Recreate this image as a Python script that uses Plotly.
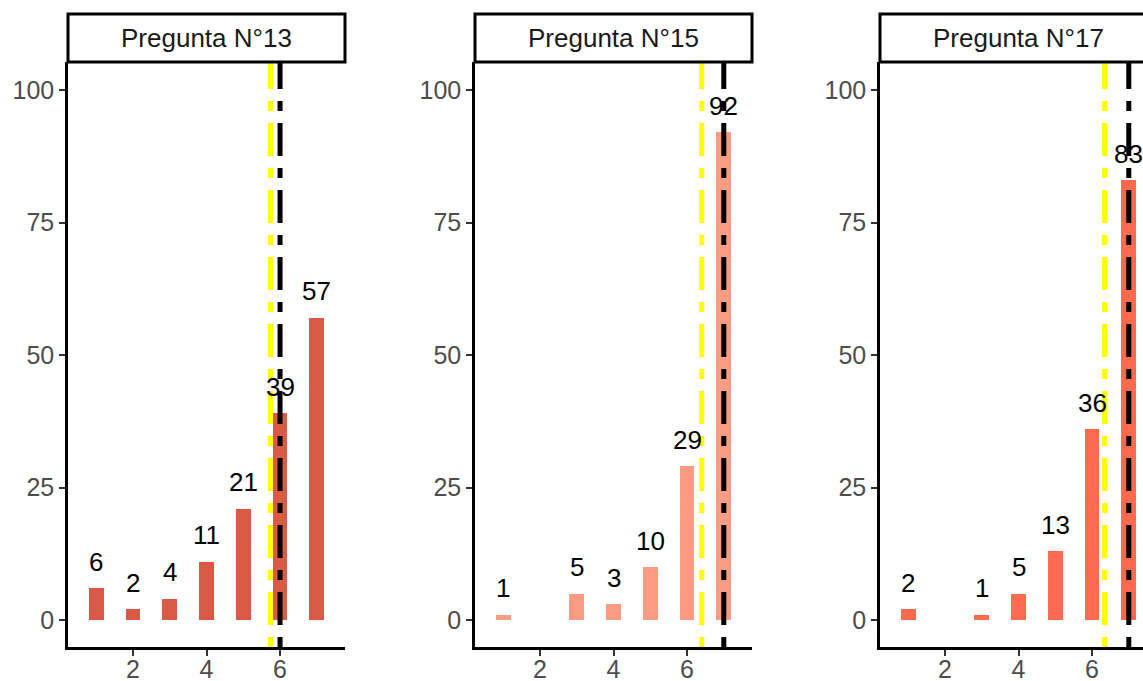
import plotly.graph_objects as go

categories = [1, 2, 3, 4, 5, 6, 7]
panel_titles = ["Pregunta N°13", "Pregunta N°15", "Pregunta N°17"]
q13_counts = [6, 2, 4, 11, 21, 39, 57]
q15_counts = [1, None, 5, 3, 10, 29, 92]
q17_counts = [2, None, 1, 5, 13, 36, 83]
mean_values = [5.74, 6.40, 6.34]
median_values = [6, 7, 7]
bar_colors = ["#D95B45", "#FC9C85", "#FE6A50"]
y_ticks = [0, 25, 50, 75, 100]
x_ticks = [2, 4, 6]

series = [q13_counts, q15_counts, q17_counts]

W, H = 1143, 681
ml, mr, mt, mb = 68, 0, 62, 34
pw = W - ml - mr
ph = H - mt - mb
panel_px = [(68, 345), (475, 752), (880, 1157)]
unit_px = 36.75
x_lo = 0.23

FONT = "Liberation Sans, Arial, sans-serif"

fig = go.Figure()
shapes = []
annotations = []
for i, (counts, color, title) in enumerate(zip(series, bar_colors, panel_titles)):
    sfx = "" if i == 0 else str(i + 1)
    xa, ya = "x" + sfx, "y" + sfx
    px0, px1 = panel_px[i]
    d0 = (px0 - ml) / pw
    d1 = min((px1 - ml) / pw, 1.0)
    right_px = min(px1, W)
    x_hi = x_lo + (right_px - px0) / unit_px
    xs = [c for c, v in zip(categories, counts) if v is not None]
    ys = [v for v in counts if v is not None]
    fig.add_trace(go.Bar(x=xs, y=ys, width=0.4, marker=dict(color=color, line=dict(width=0)),
                         xaxis=xa, yaxis=ya, showlegend=False, hoverinfo="skip"))
    for xv, yv in zip(xs, ys):
        annotations.append(dict(xref=xa, yref=ya, x=xv, y=yv + 5, text=str(yv), showarrow=False,
                                xanchor="center", yanchor="middle",
                                font=dict(family=FONT, size=26, color="#000000")))
    layout_x = dict(domain=[d0, d1], range=[x_lo, x_hi], anchor=ya, tickvals=x_ticks,
                    showline=True, linecolor="#000000", linewidth=2.5, ticks="outside",
                    ticklen=6, tickwidth=2, tickcolor="#333333", showgrid=False, zeroline=False,
                    automargin=False, ticklabelstandoff=-8,
                    tickfont=dict(family=FONT, size=25, color="#4D4D4D"), fixedrange=True)
    layout_y = dict(domain=[0, 1], range=[-5.09, 105.3], anchor=xa, tickvals=y_ticks,
                    showline=True, linecolor="#000000", linewidth=2.5, ticks="outside",
                    ticklen=6, tickwidth=2, tickcolor="#333333", showgrid=False, zeroline=False,
                    automargin=False,
                    tickfont=dict(family=FONT, size=25, color="#4D4D4D"), fixedrange=True)
    fig.update_layout(**{"xaxis" + sfx: layout_x, "yaxis" + sfx: layout_y})
    # mean & median lines
    for val, col in [(mean_values[i], "#FFFF00"), (median_values[i], "#000000")]:
        shapes.append(dict(type="line", xref=xa, yref=ya + " domain", x0=val, x1=val, y0=0, y1=1,
                           line=dict(color=col, width=5, dash="10px,12px,33px,12px"), layer="above"))
    # strip box
    s0 = (px0 - ml) / pw
    s1 = (px1 - ml) / pw
    shapes.append(dict(type="rect", xref="paper", yref="paper", x0=s0, x1=s1,
                       y0=1.0, y1=1 + 48 / ph, line=dict(color="#000000", width=3),
                       fillcolor="#FFFFFF", layer="above"))
    annotations.append(dict(xref="paper", yref="paper", x=(s0 + s1) / 2, y=1 + 24 / ph,
                            text=title, showarrow=False, xanchor="center", yanchor="middle",
                            font=dict(family=FONT, size=26, color="#1A1A1A")))

fig.update_layout(width=W, height=H, margin=dict(l=ml, r=mr, t=mt, b=mb, autoexpand=False),
                  plot_bgcolor="#FFFFFF", paper_bgcolor="#FFFFFF",
                  shapes=shapes, annotations=annotations, bargap=0, showlegend=False)
fig.write_html("out.html", config={"displayModeBar": False},
               post_script="document.body.style.margin='0px';document.body.style.overflow='hidden';")
